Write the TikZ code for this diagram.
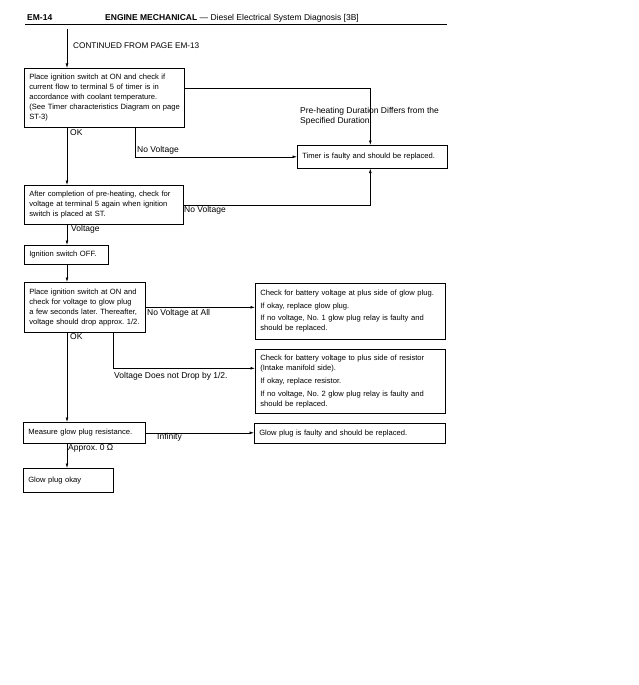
\documentclass[tikz,border=0pt]{standalone}
\usepackage{fontspec}
\setmainfont{Liberation Sans}
\usetikzlibrary{arrows.meta}
\begin{document}
\frenchspacing
\begin{tikzpicture}[x=1pt,y=-1pt,
  box/.style={draw, line width=0.6pt, anchor=north west, align=left, inner xsep=5pt, inner ysep=1pt, font=\fontsize{7.6}{10}\selectfont},
  lbl/.style={anchor=west, inner sep=0pt, font=\fontsize{8.5}{10}\selectfont, align=left},
  conn/.style={line width=0.6pt},
  arr/.style={conn, -{Latex[length=4.5pt,width=2.8pt]}}]
\fill[white] (0,0) rectangle (639,685);
\useasboundingbox (0,0) rectangle (639,685);

% header
\node[anchor=west, inner sep=0pt, font=\fontsize{8.5}{10}\selectfont\bfseries] (pg) at (27,18) {EM-14};
\node[anchor=west, inner sep=0pt, font=\fontsize{8.5}{10}\selectfont] (title) at (105,18) {\textbf{ENGINE MECHANICAL} — Diesel Electrical System Diagnosis [3B]};
\draw[line width=1pt] (25,25) -- (447,25);

% helper coordinates
\coordinate (start) at (67,29);
\coordinate (mx) at (67,0);
\coordinate (nx) at (135,0);
\coordinate (vx) at (113,0);

% boxes
\node[box, text width=150pt, minimum height=59pt] (b1) at (24,68)
  {\mbox{Place ignition switch at ON and check if}\\\mbox{current flow to terminal 5 of timer is in}\\\mbox{accordance with coolant temperature.}\\\mbox{(See Timer characteristics Diagram on page}\\ST-3)};
\node[box, text width=140pt, minimum height=23pt] (timer) at (297,145)
  {\mbox{Timer is faulty and should be replaced.}};
\node[box, text width=149pt, minimum height=39pt] (b2) at (24,185)
  {\mbox{After completion of pre-heating, check for}\\\mbox{voltage at terminal 5 again when ignition}\\\mbox{switch is placed at ST.}};
\node[box, text width=74pt, minimum height=19pt] (b3) at (24,245)
  {\mbox{Ignition switch OFF.}};
\node[box, text width=111pt, minimum height=50pt] (b4) at (24,282)
  {\mbox{Place ignition switch at ON and}\\\mbox{check for voltage to glow plug}\\\mbox{a few seconds later. Thereafter,}\\\mbox{voltage should drop approx. 1/2.}};
\node[box, text width=180pt, minimum height=56pt] (b5) at (255,283)
  {\mbox{Check for battery voltage at plus side of glow plug.}\\[3pt]\mbox{If okay, replace glow plug.}\\[2pt]\mbox{If no voltage, No. 1 glow plug relay is faulty and}\\\mbox{should be replaced.}};
\node[box, text width=180pt, minimum height=64pt] (b6) at (255,349)
  {\mbox{Check for battery voltage to plus side of resistor}\\\mbox{(Intake manifold side).}\\[3pt]\mbox{If okay, replace resistor.}\\[3pt]\mbox{If no voltage, No. 2 glow plug relay is faulty and}\\\mbox{should be replaced.}};
\node[box, text width=112pt, minimum height=21pt] (b7) at (23,422)
  {\mbox{Measure glow plug resistance.}};
\node[box, text width=181pt, minimum height=20pt] (b8) at (254,423)
  {\mbox{Glow plug is faulty and should be replaced.}};
\node[box, text width=80pt, minimum height=24pt] (b9) at (23,468)
  {\mbox{Glow plug okay}};

% main line
\draw[arr] (start) -- (b1.north -| mx);
\draw[arr] (b1.south -| mx) -- (b2.north -| mx);
\draw[arr] (b2.south -| mx) -- (b3.north -| mx);
\draw[arr] (b3.south -| mx) -- (b4.north -| mx);
\draw[arr] (b4.south -| mx) -- (b7.north -| mx);
\draw[arr] (b7.south -| mx) -- (b9.north -| mx);

% side branches
\draw[arr] ([yshift=9.5pt]b1.east) -| ([xshift=-2pt]timer.north);
\draw[arr] (b1.south -| nx) |- (timer.west);
\draw[arr] (b2.east) -| ([xshift=-2pt]timer.south);
\draw[arr] (b4.east) -- (b4.east -| b5.west);
\draw[arr] (b4.south -| vx) |- ([yshift=13pt]b6.west);
\draw[arr] (b7.east) -- (b7.east -| b8.west);

% labels
\node[lbl, font=\fontsize{8.2}{10}\selectfont] (cont) at (73,46) {CONTINUED FROM PAGE EM-13};
\node[lbl] (lpre) at (300,116) {Pre-heating Duration Differs from the\\Specified Duration.};
\node[lbl] (lok1) at (70,133) {OK};
\node[lbl] (lnv1) at (137,150) {No Voltage};
\node[lbl] (lnv2) at (184,210) {No Voltage};
\node[lbl] (lvolt) at (71,229) {Voltage};
\node[lbl] (lok2) at (70,337) {OK};
\node[lbl] (lnva) at (147,313) {No Voltage at All};
\node[lbl] (ldrop) at (114,376) {Voltage Does not Drop by 1/2.};
\node[lbl] (linf) at (157,437) {Infinity};
\node[lbl] (lapp) at (68,448) {Approx. 0 Ω};
\end{tikzpicture}
\end{document}
